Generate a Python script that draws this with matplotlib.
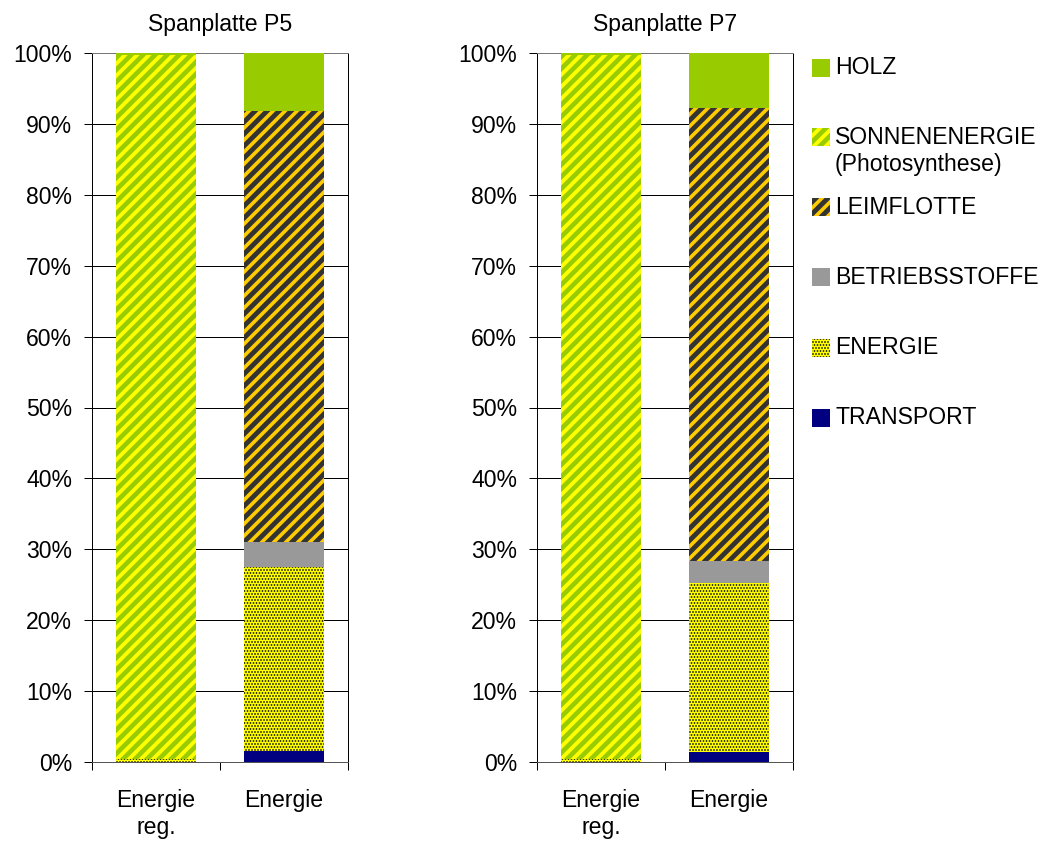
import matplotlib
matplotlib.use("Agg")
import matplotlib.pyplot as plt
from matplotlib.patches import Rectangle
import numpy as np

plt.rcParams['font.family'] = ['Liberation Sans', 'DejaVu Sans']

categories = ['Energie\nreg.', 'Energie']
titles = ['Spanplatte P5', 'Spanplatte P7']
series_names = ['TRANSPORT', 'ENERGIE', 'BETRIEBSSTOFFE', 'LEIMFLOTTE', 'SONNENENERGIE', 'HOLZ']

# values in percent, bottom-to-top order
p5_transport = [0.0, 1.6]
p5_energie = [0.4, 25.9]
p5_betrieb = [0.0, 3.5]
p5_leim = [0.0, 60.8]
p5_sonnen = [99.3, 0.0]
p5_holz = [0.3, 8.2]

p7_transport = [0.0, 1.4]
p7_energie = [0.4, 23.8]
p7_betrieb = [0.0, 3.1]
p7_leim = [0.0, 63.9]
p7_sonnen = [99.3, 0.0]
p7_holz = [0.3, 7.8]

yticks = [0, 10, 20, 30, 40, 50, 60, 70, 80, 90, 100]
legend_labels = ['HOLZ', 'SONNENENERGIE\n(Photosynthese)', 'LEIMFLOTTE', 'BETRIEBSSTOFFE', 'ENERGIE', 'TRANSPORT']
legend_keys = ['HOLZ', 'SONNENENERGIE', 'LEIMFLOTTE', 'BETRIEBSSTOFFE', 'ENERGIE', 'TRANSPORT']

styles = {
    'TRANSPORT': dict(face='#000080', hatch=None, hc='#000080', hlw=1),
    'ENERGIE': dict(face='#FFFF00', hatch='....', hc='#000000', hlw=1.1),
    'BETRIEBSSTOFFE': dict(face='#999999', hatch=None, hc='#999999', hlw=1),
    'LEIMFLOTTE': dict(face='#333333', hatch='//', hc='#FFCC00', hlw=3.6),
    'SONNENENERGIE': dict(face='#99CC00', hatch='//', hc='#FFFF00', hlw=3.8),
    'HOLZ': dict(face='#99CC00', hatch=None, hc='#99CC00', hlw=1),
}

FS = 23
W, H = 1051, 843
fig = plt.figure(figsize=(W / 72, H / 72), dpi=72)

def styled_patch(p, st, hlw):
    p.set_facecolor(st['face'])
    p.set_linewidth(0)
    if st['hatch']:
        p.set_edgecolor(st['hc'])
        p.set_hatch(st['hatch'])
        try:
            p.set_hatch_linewidth(hlw)
        except Exception:
            p._hatch_linewidth = hlw
    else:
        p.set_edgecolor(st['face'])

panels = [
    (92, titles[0], [p5_transport, p5_energie, p5_betrieb, p5_leim, p5_sonnen, p5_holz]),
    (537, titles[1], [p7_transport, p7_energie, p7_betrieb, p7_leim, p7_sonnen, p7_holz]),
]

for left_px, title, data in panels:
    ax = fig.add_axes([left_px / W, (H - 762) / H, 256 / W, 709 / H])
    x = np.arange(len(categories))
    bottom = np.zeros(len(categories))
    for name, vals in zip(series_names, data):
        st = styles[name]
        plt.rcParams['hatch.linewidth'] = st['hlw']
        bars = ax.bar(x, vals, width=0.63, bottom=bottom, zorder=3)
        for b in bars:
            styled_patch(b, st, st['hlw'])
        bottom = bottom + np.array(vals)
    ax.set_xlim(-0.5, 1.5)
    ax.set_ylim(0, 100)
    ax.set_yticks(yticks)
    ax.set_yticklabels([f'{v}%' for v in yticks], fontsize=FS)
    ax.yaxis.grid(True, color='black', linewidth=1, zorder=0)
    ax.set_axisbelow(True)
    ax.set_xticks(x)
    ax.set_xticklabels(categories, fontsize=FS, linespacing=1.2)
    ax.tick_params(axis='x', which='major', length=0, pad=27)
    ax.set_xticks([-0.5, 0.5, 1.5], minor=True)
    ax.tick_params(axis='x', which='minor', length=8, width=1, color='black')
    ax.tick_params(axis='y', length=8, width=1, pad=12, colors='black')
    for s in ax.spines.values():
        s.set_color('black')
        s.set_linewidth(1)
    ax.spines['top'].set_color('#777777')
    ax.spines['bottom'].set_color('#555555')
    ax.set_title(title, fontsize=FS, pad=22)

# legend drawn manually in figure pixel positions
legend_y = [68, 137, 207, 277, 348, 418]
for key, label, ypx in zip(legend_keys, legend_labels, legend_y):
    st = styles[key]
    plt.rcParams['hatch.linewidth'] = st['hlw']
    r = Rectangle((812 / W, (H - ypx - 9) / H), 18 / W, 18 / H, transform=fig.transFigure)
    styled_patch(r, st, st['hlw'])
    fig.add_artist(r)
    if '\n' in label:
        first, second = label.split('\n')
        fig.text(835 / W, (H - ypx) / H, first, fontsize=FS, va='center', ha='left')
        fig.text(835 / W, (H - ypx - 28) / H, second, fontsize=FS, va='center', ha='left')
    else:
        fig.text(835 / W, (H - ypx) / H, label, fontsize=FS, va='center', ha='left')

fig.savefig('out.png', dpi=72, facecolor='white')
